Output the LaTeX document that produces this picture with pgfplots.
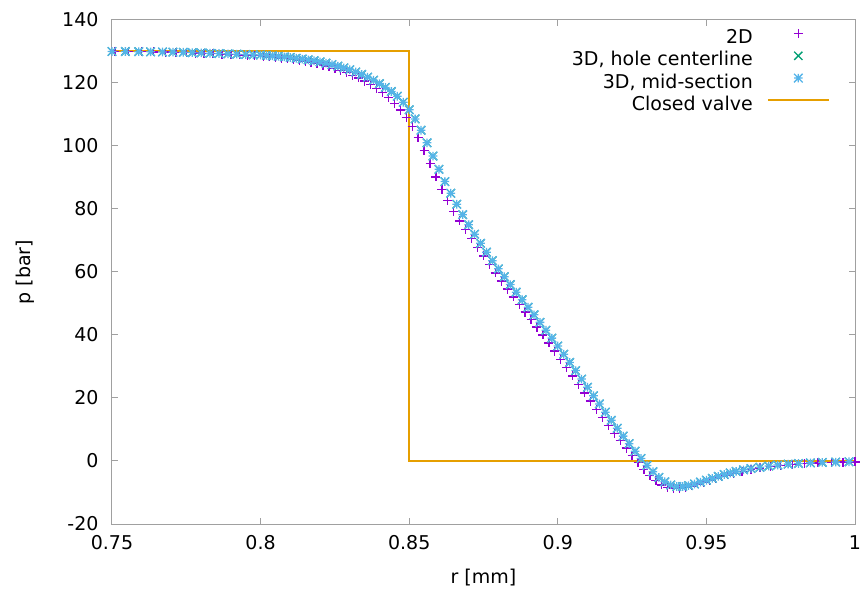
\documentclass[border=0pt]{standalone}
\usepackage{fontspec}
\setmainfont{DejaVu Sans}
\usepackage{pgfplots}
\pgfplotsset{compat=1.18}
\usepackage{pgfplotstable}

\definecolor{gpviolet}{RGB}{148,0,211}
\definecolor{gpgreen}{RGB}{0,158,115}
\definecolor{gpblue}{RGB}{86,180,233}
\definecolor{gporange}{RGB}{230,159,0}
\definecolor{gpaxis}{RGB}{160,160,160}

\newcommand{\gpfont}{\fontsize{19bp}{22bp}\selectfont}

\pgfdeclareplotmark{gpstar}{%
  \pgfpathmoveto{\pgfqpoint{-\pgfplotmarksize}{0pt}}\pgfpathlineto{\pgfqpoint{\pgfplotmarksize}{0pt}}%
  \pgfpathmoveto{\pgfqpoint{0pt}{-\pgfplotmarksize}}\pgfpathlineto{\pgfqpoint{0pt}{\pgfplotmarksize}}%
  \pgfpathmoveto{\pgfqpoint{-\pgfplotmarksize}{-\pgfplotmarksize}}\pgfpathlineto{\pgfqpoint{\pgfplotmarksize}{\pgfplotmarksize}}%
  \pgfpathmoveto{\pgfqpoint{-\pgfplotmarksize}{\pgfplotmarksize}}\pgfpathlineto{\pgfqpoint{\pgfplotmarksize}{-\pgfplotmarksize}}%
  \pgfusepathqstroke}

\pgfplotstableread{
r p
0.751 130.0
0.7555 129.95
0.760 129.9
0.764 129.85
0.768 129.8
0.7715 129.7
0.775 129.6
0.778 129.5
0.781 129.4
0.784 129.3
0.787 129.15
0.790 129.0
0.793 128.9
0.7955 128.8
0.798 128.7
0.801 128.5
0.803 128.3
0.805 128.1
0.807 127.9
0.809 127.7
0.811 127.45
0.813 127.2
0.815 126.9
0.817 126.55
0.819 126.15
0.821 125.7
0.823 125.15
0.825 124.6
0.827 123.95
0.829 123.25
0.831 122.45
0.833 121.6
0.835 120.6
0.837 119.5
0.839 118.3
0.841 116.9
0.843 115.3
0.845 113.5
0.847 111.4
0.849 109.0
0.851 106.2
0.853 102.6
0.855 98.6
0.857 94.4
0.859 90.2
0.861 86.2
0.863 82.6
0.865 79.3
0.867 76.2
0.869 73.4
0.871 70.6
0.873 67.8
0.875 65.1
0.877 62.4
0.879 59.7
0.881 57.1
0.883 54.6
0.885 52.1
0.887 49.7
0.889 47.3
0.891 44.9
0.893 42.5
0.895 40.0
0.897 37.5
0.899 34.9
0.901 32.3
0.903 29.7
0.905 27.0
0.907 24.3
0.909 21.6
0.911 19.0
0.913 16.3
0.915 13.7
0.917 11.2
0.919 8.8
0.921 6.4
0.923 4.1
0.925 1.8
0.927 -0.5
0.929 -2.7
0.931 -4.6
0.933 -6.3
0.935 -7.6
0.937 -8.4
0.939 -8.8
0.941 -8.8
0.943 -8.4
0.945 -7.9
0.947 -7.3
0.949 -6.7
0.951 -6.1
0.953 -5.5
0.955 -4.9
0.957 -4.4
0.959 -3.9
0.962 -3.3
0.965 -2.7
0.968 -2.2
0.9715 -1.8
0.975 -1.4
0.979 -1.1
0.983 -0.8
0.9875 -0.6
0.992 -0.45
0.996 -0.35
1.000 -0.3
}\tabTwoD

\pgfplotstableread{
r hole mid
0.750 130.0 130.0
0.7545 130.0 130.0
0.759 129.95 129.95
0.763 129.9 129.9
0.767 129.85 129.85
0.7705 129.8 129.8
0.774 129.75 129.75
0.777 129.65 129.65
0.780 129.55 129.55
0.783 129.45 129.45
0.786 129.35 129.35
0.789 129.25 129.25
0.792 129.15 129.15
0.795 129.05 129.05
0.7975 128.95 128.95
0.800 128.9 128.9
0.802 128.75 128.75
0.804 128.6 128.6
0.806 128.45 128.45
0.808 128.3 128.3
0.810 128.1 128.1
0.812 127.85 127.85
0.814 127.6 127.6
0.816 127.35 127.35
0.818 127.05 127.05
0.820 126.7 126.7
0.822 126.3 126.3
0.824 125.85 125.85
0.826 125.35 125.35
0.828 124.8 124.8
0.830 124.2 124.2
0.832 123.5 123.5
0.834 122.7 122.7
0.836 121.85 121.85
0.838 120.9 120.9
0.840 119.8 119.8
0.842 118.6 118.6
0.844 117.3 117.3
0.846 115.8 115.8
0.848 113.9 113.9
0.850 111.5 111.5
0.852 108.6 108.6
0.854 105.0 105.0
0.856 101.0 101.0
0.858 96.8 96.8
0.860 92.6 92.6
0.862 88.7 88.7
0.864 85.0 85.0
0.866 81.5 81.5
0.868 78.2 78.2
0.870 75.0 75.0
0.872 72.0 72.0
0.874 69.1 69.1
0.876 66.3 66.3
0.878 63.6 63.6
0.880 61.0 61.0
0.882 58.5 58.5
0.884 56.0 56.0
0.886 53.6 53.6
0.888 51.2 51.2
0.890 48.8 48.8
0.892 46.4 46.4
0.894 44.0 44.0
0.896 41.5 41.5
0.898 39.0 39.0
0.900 36.5 36.5
0.902 33.9 33.9
0.904 31.3 31.3
0.906 28.7 28.7
0.908 26.0 26.0
0.910 23.4 23.4
0.912 20.7 20.7
0.914 18.1 18.1
0.916 15.5 15.5
0.918 12.9 12.9
0.920 10.4 10.4
0.922 7.9 7.9
0.924 5.5 5.5
0.926 3.1 3.1
0.928 0.8 0.8
0.930 -1.4 -1.4
0.932 -3.4 -3.4
0.934 -5.2 -5.2
0.936 -6.6 -6.6
0.938 -7.6 -7.6
0.940 -8.1 -8.1
0.942 -8.1 -8.1
0.944 -7.8 -7.8
0.946 -7.3 -7.3
0.948 -6.7 -6.7
0.950 -6.1 -6.1
0.952 -5.5 -5.5
0.954 -4.9 -4.9
0.956 -4.3 -4.3
0.958 -3.8 -3.8
0.960 -3.3 -3.3
0.9625 -2.8 -2.8
0.965 -2.4 -2.4
0.968 -2.0 -2.0
0.971 -1.6 -1.6
0.974 -1.3 -1.3
0.9775 -1.0 -1.0
0.981 -0.8 -0.8
0.985 -0.6 -0.6
0.989 -0.45 -0.45
0.9935 -0.35 -0.35
0.998 -0.25 -0.25
}\tabThreeD

\begin{document}
\begin{tikzpicture}
\begin{axis}[
  scale only axis, width=743bp, height=504bp,
  xmin=0.75, xmax=1, ymin=-20, ymax=140,
  xtick={0.75,0.8,0.85,0.9,0.95,1},
  ytick={-20,0,20,40,60,80,100,120,140},
  tick align=inside, major tick length=6bp,
  axis line style={gpaxis, line width=1bp},
  every tick/.style={gpaxis, line width=1bp},
  /pgf/number format/assume math mode=true,
  tick label style={font=\gpfont},
  xticklabel style={/pgf/number format/precision=2, yshift=-8bp},
  yticklabel style={xshift=-10bp},
  xlabel={r [mm]}, ylabel={p [bar]},
  label style={font=\gpfont},
  xlabel style={at={(axis description cs:0.5,0)}, anchor=base, yshift=-59bp},
  ylabel style={at={(axis description cs:-0.1171,0.5)}, anchor=center},
  clip=false,
  legend plot pos=right,
  legend cell align=right,
  legend style={draw=none, fill=none, font=\gpfont,
    at={(axis description cs:1,1)}, anchor=north east, xshift=-25bp, yshift=-9bp,
    inner sep=0pt, row sep=4bp, column sep=14bp,
    nodes={inner sep=0pt, text height=14bp, text depth=4bp}},
  legend image code/.code={\draw[mark repeat=2,mark phase=2,#1] plot coordinates {(0bp,5bp)(30.5bp,5bp)(61bp,5bp)};},
]
\addplot[only marks, mark=+, mark size=4.5bp, color=gpviolet, line width=1.3bp] table[x=r, y=p] {\tabTwoD};
\addlegendentry{2D}
\addplot[only marks, mark=x, mark size=5.8bp, color=gpgreen, line width=1.3bp] table[x=r, y=hole] {\tabThreeD};
\addlegendentry{3D, hole centerline}
\addplot[only marks, mark=gpstar, mark size=4.3bp, color=gpblue, line width=1.3bp] table[x=r, y=mid] {\tabThreeD};
\addlegendentry{3D, mid-section}
\addplot[gporange, line width=2bp] coordinates {(0.75,130) (0.85,130) (0.85,0) (1.0,0)};
\addlegendentry{Closed valve}
\end{axis}
\pgfresetboundingbox
\path[use as bounding box] ([xshift=-112bp,yshift=-67bp]current axis.south west) rectangle ([xshift=10bp,yshift=20bp]current axis.north east);
\end{tikzpicture}
\end{document}
